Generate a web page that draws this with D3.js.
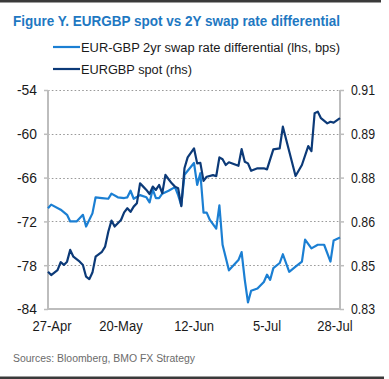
<!DOCTYPE html>
<html>
<head>
<meta charset="utf-8">
<script src="https://cdn.jsdelivr.net/npm/d3@7"></script>
<style>
  html, body { margin: 0; padding: 0; background: #fff; }
  svg { display: block; }
</style>
</head>
<body>
<div id="chart"></div>
<script>
// Series (2017, lhs in bps, rhs EURGBP)
const swapDates = ['2017-04-27','2017-04-28','2017-05-01','2017-05-03','2017-05-04','2017-05-06','2017-05-08','2017-05-09','2017-05-11','2017-05-12','2017-05-14','2017-05-16','2017-05-17','2017-05-19','2017-05-21','2017-05-22','2017-05-23','2017-05-24','2017-05-26','2017-05-28','2017-05-29','2017-05-30','2017-05-31','2017-06-01','2017-06-02','2017-06-04','2017-06-06','2017-06-07','2017-06-08','2017-06-09','2017-06-12','2017-06-13','2017-06-14','2017-06-15','2017-06-16','2017-06-17','2017-06-19','2017-06-20','2017-06-21','2017-06-23','2017-06-26','2017-06-27','2017-06-28','2017-06-29','2017-06-30','2017-07-02','2017-07-04','2017-07-05','2017-07-06','2017-07-07','2017-07-09','2017-07-10','2017-07-12','2017-07-14','2017-07-16','2017-07-17','2017-07-19','2017-07-21','2017-07-23','2017-07-25','2017-07-26','2017-07-28'];
const swapValues = [-70.2,-69.7,-70.4,-71.1,-72.0,-72.0,-71.1,-72.7,-70.9,-68.7,-68.8,-68.9,-68.2,-68.7,-68.8,-68.7,-67.8,-68.9,-68.4,-68.7,-69.4,-67.6,-68.8,-68.8,-68.2,-67.8,-67.3,-68.4,-69.8,-65.6,-64.0,-67.0,-65.4,-70.8,-70.8,-71.8,-73.0,-69.8,-75.2,-78.7,-77.3,-76.2,-80.0,-83.1,-81.5,-81.2,-80.3,-79.3,-80.0,-78.4,-77.7,-76.5,-78.9,-78.2,-77.5,-74.5,-75.7,-75.2,-75.2,-77.5,-74.6,-74.2];

const spotDates = ['2017-04-27','2017-04-28','2017-04-30','2017-05-01','2017-05-02','2017-05-03','2017-05-04','2017-05-05','2017-05-07','2017-05-08','2017-05-09','2017-05-10','2017-05-11','2017-05-12','2017-05-14','2017-05-15','2017-05-16','2017-05-17','2017-05-18','2017-05-20','2017-05-21','2017-05-22','2017-05-23','2017-05-24','2017-05-25','2017-05-26','2017-05-27','2017-05-28','2017-05-29','2017-05-30','2017-05-31','2017-06-01','2017-06-02','2017-06-03','2017-06-04','2017-06-05','2017-06-06','2017-06-07','2017-06-08','2017-06-09','2017-06-10','2017-06-12','2017-06-13','2017-06-14','2017-06-15','2017-06-16','2017-06-18','2017-06-19','2017-06-20','2017-06-21','2017-06-22','2017-06-23','2017-06-26','2017-06-27','2017-06-28','2017-06-29','2017-06-30','2017-07-02','2017-07-04','2017-07-05','2017-07-07','2017-07-09','2017-07-10','2017-07-14','2017-07-16','2017-07-18','2017-07-19','2017-07-20','2017-07-21','2017-07-22','2017-07-24','2017-07-25','2017-07-26','2017-07-28'];
const spotValues = [0.8436,0.8424,0.8442,0.8471,0.8461,0.8473,0.8516,0.8491,0.8473,0.8461,0.8418,0.8409,0.8433,0.8491,0.8509,0.8528,0.8582,0.8623,0.8601,0.8625,0.8653,0.8668,0.8655,0.8674,0.8686,0.8759,0.8747,0.8735,0.8720,0.8747,0.8735,0.8753,0.8723,0.8790,0.8774,0.8759,0.8747,0.8741,0.8676,0.8814,0.8854,0.8887,0.8832,0.8834,0.8768,0.8783,0.8789,0.8785,0.8854,0.8847,0.8826,0.8836,0.8823,0.8884,0.8838,0.8832,0.8805,0.8814,0.8814,0.8810,0.8883,0.8887,0.8966,0.8786,0.8826,0.8895,0.8877,0.9015,0.9021,0.8997,0.8978,0.8984,0.8981,0.8997];

const xTickDates = ['2017-04-27','2017-05-20','2017-06-12','2017-07-05','2017-07-28'];
const leftTicks = [-84,-78,-72,-66,-60,-54];
const rightTicks = [0.83,0.846,0.862,0.878,0.894,0.91];

const titleText = 'Figure Y. EURGBP spot vs 2Y swap rate differential';
const legendLabels = ['EUR-GBP 2yr swap rate differential (lhs, bps)', 'EURGBP spot (rhs)'];
const sourceText = 'Sources: Bloomberg, BMO FX Strategy';

const W = 389, H = 379;
const margin = { top: 90, right: 49, bottom: 70, left: 48 };
const FONT = "'Liberation Sans Narrow', 'Arial Narrow', 'Liberation Sans', Arial, sans-serif";
const lightBlue = '#1b7fd3';
const darkBlue = '#0c3a78';

const parse = d3.timeParse('%Y-%m-%d');
const swap = swapDates.map((d, i) => ({ date: parse(d), value: swapValues[i] }));
const spot = spotDates.map((d, i) => ({ date: parse(d), value: spotValues[i] }));

const svg = d3.select('#chart').append('svg')
    .attr('width', W).attr('height', H)
    .attr('viewBox', `0 0 ${W} ${H}`);

// squeeze text to a target width (works whether or not a narrow face exists)
function fitTo(sel, w) {
    sel.each(function () {
        const len = this.getComputedTextLength();
        if (len > w) {
            // shrink the font first so the natural box stays close to the target
            const fs = parseFloat(d3.select(this).attr('font-size'));
            d3.select(this).attr('font-size', fs * Math.max(0.85, w / len));
        }
        d3.select(this).attr('textLength', w).attr('lengthAdjust', 'spacingAndGlyphs');
    });
}
function narrowTo(sel, k) {
    sel.each(function () {
        const len = this.getComputedTextLength();
        d3.select(this).attr('textLength', len * k).attr('lengthAdjust', 'spacingAndGlyphs');
    });
}

// frame lines
svg.append('rect').attr('x', 0).attr('y', 0).attr('width', 381).attr('height', 2.5).attr('fill', '#3a3a3a');
svg.append('rect').attr('x', 0).attr('y', 376.5).attr('width', 384).attr('height', 2.5).attr('fill', '#3a3a3a');

// title
svg.append('text')
    .attr('x', 13).attr('y', 26)
    .attr('font-family', FONT).attr('font-weight', 700).attr('font-size', 16.5)
    .attr('fill', '#1e78c2')
    .text(titleText)
    .call(fitTo, 327);

// legend
const legendY = [47, 69];
const legendW = [259, 111];
const legend = svg.append('g');
legendLabels.forEach((lab, i) => {
    legend.append('line')
        .attr('x1', 53).attr('x2', 80)
        .attr('y1', legendY[i]).attr('y2', legendY[i])
        .attr('stroke', i === 0 ? lightBlue : darkBlue).attr('stroke-width', 2.2);
    legend.append('text')
        .attr('x', 81).attr('y', legendY[i] + 5)
        .attr('font-family', FONT).attr('font-size', 15).attr('fill', '#1a1a1a')
        .text(lab)
        .call(fitTo, legendW[i]);
});

const x0 = margin.left, x1 = W - margin.right;
const y0 = H - margin.bottom, y1 = margin.top;

const x = d3.scaleTime().domain([parse('2017-04-27'), parse('2017-07-28')]).range([x0, x1]);
const yL = d3.scaleLinear().domain([-84, -54]).range([y0, y1]);
const yR = d3.scaleLinear().domain([0.83, 0.91]).range([y0, y1]);

// dotted gridlines
svg.append('g').selectAll('line')
    .data(leftTicks.filter(t => t !== -84))
    .join('line')
        .attr('x1', x0).attr('x2', x1)
        .attr('y1', d => Math.round(yL(d)) + 0.5).attr('y2', d => Math.round(yL(d)) + 0.5)
        .attr('stroke', '#9a9a9a').attr('stroke-width', 1.2)
        .attr('stroke-dasharray', '1.6,2.2');

// axes
const axisColor = '#bdbdbd';
const gL = svg.append('g').attr('transform', `translate(${x0},0)`)
    .call(d3.axisLeft(yL).tickValues(leftTicks).tickSize(4).tickPadding(7).tickFormat(d => String(d)));
const gR = svg.append('g').attr('transform', `translate(${x1},0)`)
    .call(d3.axisRight(yR).tickValues(rightTicks).tickSize(4).tickPadding(7).tickFormat(d => d.toFixed(2)));
const gB = svg.append('g').attr('transform', `translate(0,${y0})`)
    .call(d3.axisBottom(x).tickValues(xTickDates.map(parse)).tickSize(0).tickPadding(11)
        .tickFormat(d3.timeFormat('%-d-%b')));

const tickW = { '-54': 20, '27-Apr': 39 };
[gL, gR, gB].forEach(g => {
    g.select('.domain').attr('stroke', axisColor).attr('stroke-width', 2);
    g.selectAll('.tick line').attr('stroke', axisColor).attr('stroke-width', 1.5);
    g.selectAll('.tick text')
        .attr('font-family', FONT).attr('font-size', 15.5).attr('fill', '#1a1a1a');
});
// normalise tick label widths to the reference: "-54" ~20px wide, "27-Apr" ~39px wide
function scaleTicks(g, sample, target) {
    const probe = g.selectAll('.tick text').filter(function () { return this.textContent === sample; }).node();
    const k = probe ? Math.min(1, target / probe.getComputedTextLength()) : 1;
    g.selectAll('.tick text').call(narrowTo, k);
}
scaleTicks(gL, '-54', tickW['-54']);
scaleTicks(gR, '0.91', 24);
scaleTicks(gB, '27-Apr', tickW['27-Apr']);

gL.select('.domain').attr('d', `M0,${y1}V${y0}`);
gR.select('.domain').attr('d', `M0,${y1}V${y0}`);
gB.select('.domain').attr('d', `M${x0},0H${x1}`);
// end labels sit slightly inside the axis ends, as in the reference
gB.selectAll('.tick').attr('transform', function (d, i, n) {
    const shift = i === 0 ? 4 : (i === n.length - 1 ? -5 : 0);
    return `translate(${x(d) + shift},0)`;
});

// lines
const lineL = d3.line().x(d => x(d.date)).y(d => yL(d.value));
const lineR = d3.line().x(d => x(d.date)).y(d => yR(d.value));

svg.append('path').datum(swap)
    .attr('d', lineL).attr('fill', 'none')
    .attr('stroke', lightBlue).attr('stroke-width', 2.2).attr('stroke-linejoin', 'round');
svg.append('path').datum(spot)
    .attr('d', lineR).attr('fill', 'none')
    .attr('stroke', darkBlue).attr('stroke-width', 2.2).attr('stroke-linejoin', 'round');

// source
svg.append('text')
    .attr('x', 13).attr('y', 362)
    .attr('font-family', FONT).attr('font-size', 13).attr('fill', '#6b6b6b')
    .text(sourceText)
    .call(fitTo, 182);
</script>
</body>
</html>
